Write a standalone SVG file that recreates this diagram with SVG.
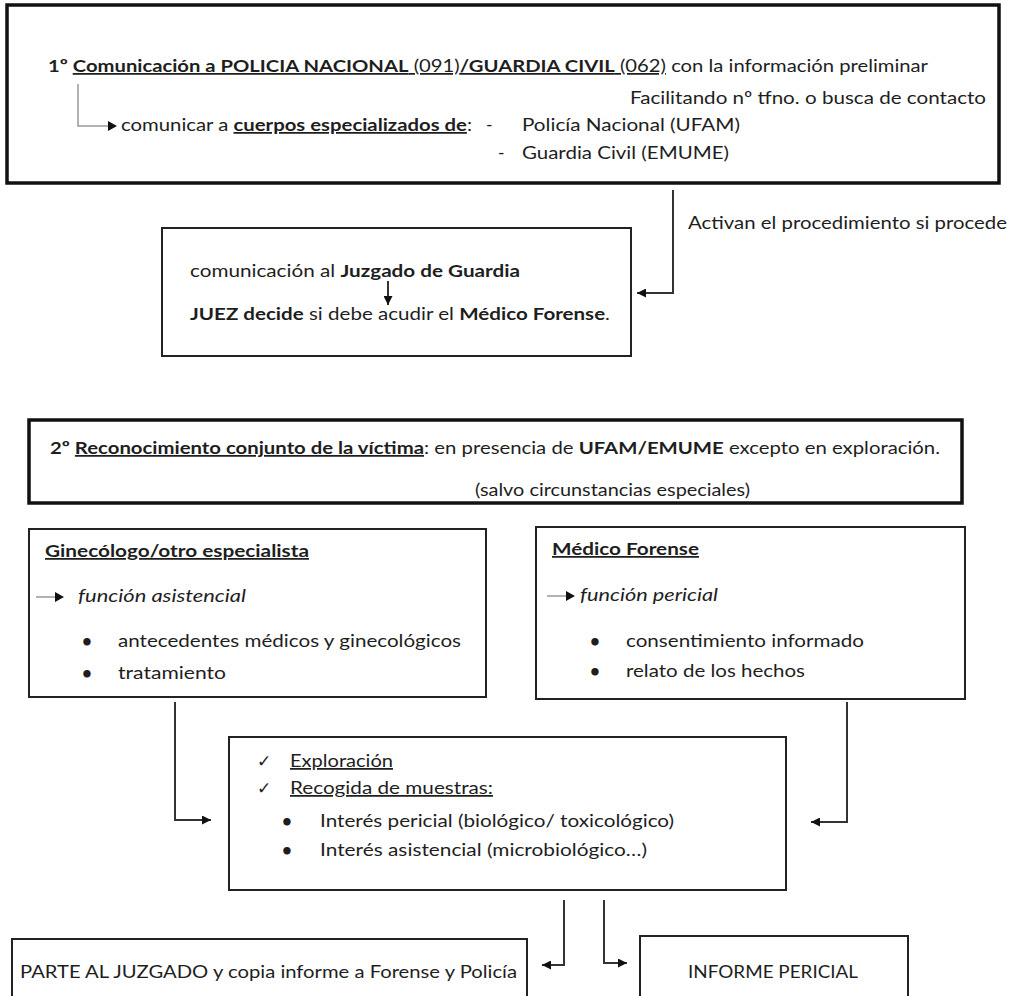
<svg xmlns="http://www.w3.org/2000/svg" width="1014" height="996" viewBox="0 0 1014 996">
<style>
text{font-family:Lato,"Open Sans","Liberation Sans",sans-serif;font-size:17.5px;fill:#1e1e1e}
.b{font-weight:bold}
.u{text-decoration:underline}
.i{font-style:italic}
.box{fill:#fff;stroke:#222;stroke-width:2}
.thick{fill:#fff;stroke:#111;stroke-width:3.5}
.con{fill:none;stroke:#333;stroke-width:2}
.grey{fill:none;stroke:#999;stroke-width:1.5}
.chk{font-family:"DejaVu Sans",sans-serif;font-size:17px}
.bul{font-size:17px;font-weight:bold}
</style>
<defs>
<marker id="ah" viewBox="0 0 10 10" refX="10" refY="5" markerWidth="10" markerHeight="9" markerUnits="userSpaceOnUse" orient="auto">
<path d="M0,0 L10,5 L0,10 z" fill="#111"/>
</marker>
</defs>
<rect width="1014" height="996" fill="#fff"/>

<g id="node-comunicacion">
<rect class="thick" x="7" y="5" width="992" height="178"/>
<text x="48" y="72" textLength="880" lengthAdjust="spacingAndGlyphs"><tspan class="b">1º </tspan><tspan class="u"><tspan class="b">Comunicación a POLICIA NACIONAL</tspan> (091)<tspan class="b">/GUARDIA CIVIL</tspan> (062)</tspan> con la información preliminar</text>
<text x="630" y="104" textLength="356" lengthAdjust="spacingAndGlyphs">Facilitando nº tfno. o busca de contacto</text>
<path class="grey" d="M78,84 V126 H108"/>
<path d="M108,121 L117,126 L108,131 z" fill="#111"/>
<text x="121" y="131" textLength="351" lengthAdjust="spacingAndGlyphs">comunicar a <tspan class="b u">cuerpos especializados de</tspan>:</text>
<text x="486" y="131">-</text>
<text x="522" y="131" textLength="218" lengthAdjust="spacingAndGlyphs">Policía Nacional (UFAM)</text>
<text x="498" y="159">-</text>
<text x="522" y="159" textLength="207" lengthAdjust="spacingAndGlyphs">Guardia Civil (EMUME)</text>
</g>

<g id="label-activan">
<text x="688" y="229" textLength="319" lengthAdjust="spacingAndGlyphs">Activan el procedimiento si procede</text>
</g>

<g id="node-juzgado">
<rect class="box" x="162" y="228" width="469" height="128"/>
<text x="190" y="277" textLength="330" lengthAdjust="spacingAndGlyphs">comunicación al <tspan class="b">Juzgado de Guardia</tspan></text>
<text x="190" y="320" textLength="420" lengthAdjust="spacingAndGlyphs"><tspan class="b">JUEZ decide</tspan> si debe acudir el <tspan class="b">Médico Forense</tspan>.</text>
</g>

<g id="node-reconocimiento">
<rect class="thick" x="29" y="420" width="933" height="83"/>
<text x="50" y="454" textLength="890" lengthAdjust="spacingAndGlyphs"><tspan class="b">2º </tspan><tspan class="b u">Reconocimiento conjunto de la víctima</tspan>: en presencia de <tspan class="b">UFAM/EMUME</tspan> excepto en exploración.</text>
<text x="475" y="496" textLength="275" lengthAdjust="spacingAndGlyphs">(salvo circunstancias especiales)</text>
</g>

<g id="node-ginecologo">
<rect class="box" x="29" y="529" width="457" height="168"/>
<text x="45" y="557" textLength="264" lengthAdjust="spacingAndGlyphs" class="b u">Ginecólogo/otro especialista</text>
<path class="grey" d="M36,597 H56"/>
<path d="M55,592 L64,597 L55,602 z" fill="#111"/>
<text x="78" y="602" textLength="168" lengthAdjust="spacingAndGlyphs" class="i">función asistencial</text>
<text class="bul" x="82" y="647">•</text>
<text x="118" y="647" textLength="343" lengthAdjust="spacingAndGlyphs">antecedentes médicos y ginecológicos</text>
<text class="bul" x="82" y="679">•</text>
<text x="118" y="679" textLength="108" lengthAdjust="spacingAndGlyphs">tratamiento</text>
</g>

<g id="node-forense">
<rect class="box" x="536" y="527" width="429" height="172"/>
<text x="552" y="555" textLength="147" lengthAdjust="spacingAndGlyphs" class="b u">Médico Forense</text>
<path class="grey" d="M547,596 H567"/>
<path d="M566,591 L575,596 L566,601 z" fill="#111"/>
<text x="580" y="601" textLength="138" lengthAdjust="spacingAndGlyphs" class="i">función pericial</text>
<text class="bul" x="590" y="647">•</text>
<text x="626" y="647" textLength="238" lengthAdjust="spacingAndGlyphs">consentimiento informado</text>
<text class="bul" x="590" y="677">•</text>
<text x="626" y="677" textLength="179" lengthAdjust="spacingAndGlyphs">relato de los hechos</text>
</g>

<g id="node-exploracion">
<rect class="box" x="229" y="737" width="557" height="153"/>
<text class="chk" x="257" y="767">✓</text>
<text x="290" y="767" textLength="103" lengthAdjust="spacingAndGlyphs" class="u">Exploración</text>
<text class="chk" x="257" y="794">✓</text>
<text x="290" y="794" textLength="203" lengthAdjust="spacingAndGlyphs" class="u">Recogida de muestras:</text>
<text class="bul" x="282" y="827">•</text>
<text x="320" y="827" textLength="354" lengthAdjust="spacingAndGlyphs">Interés pericial (biológico/ toxicológico)</text>
<text class="bul" x="282" y="856">•</text>
<text x="320" y="856" textLength="327" lengthAdjust="spacingAndGlyphs">Interés asistencial (microbiológico…)</text>
</g>

<g id="node-parte">
<rect class="box" x="12" y="939" width="515" height="70"/>
<text x="20" y="978" textLength="497" lengthAdjust="spacingAndGlyphs">PARTE AL JUZGADO y copia informe a Forense y Policía</text>
</g>

<g id="node-informe">
<rect class="box" x="640" y="936" width="268" height="75"/>
<text x="688" y="978" textLength="170" lengthAdjust="spacingAndGlyphs">INFORME PERICIAL</text>
</g>

<g id="connectors">
<path class="con" d="M673,190 V293 H637" marker-end="url(#ah)"/>
<path class="con" stroke-width="1.5" d="M388,281 V305" marker-end="url(#ah)"/>
<path class="con" d="M175,702 V820 H211" marker-end="url(#ah)"/>
<path class="con" d="M847,702 V822 H811" marker-end="url(#ah)"/>
<path class="con" d="M564,900 V965 H542" marker-end="url(#ah)"/>
<path class="con" d="M604,900 V963 H627" marker-end="url(#ah)"/>
</g>
</svg>
